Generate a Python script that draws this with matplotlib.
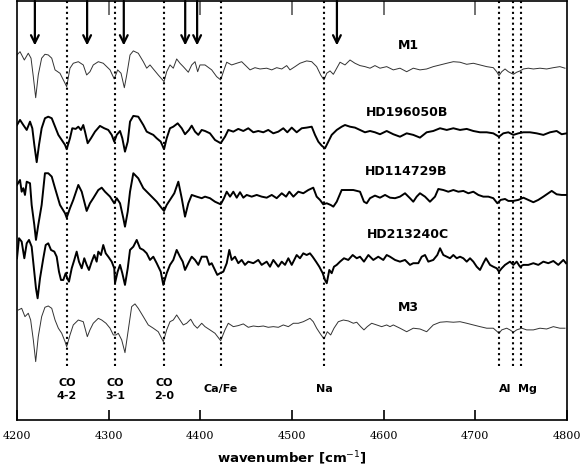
import matplotlib
matplotlib.use("Agg")
import matplotlib.pyplot as plt

# spectra, normalised flux (continuum = 1)
m1_wn = [4200, 4203.3, 4208.0, 4212.3, 4215.3, 4217.8, 4220.4, 4223.2, 4226.9, 4230.5,
         4234.1, 4237.9, 4241.5, 4246.9, 4252.4, 4254.2, 4257.8, 4261.4, 4266.9, 4272.3,
         4276.0, 4279.6, 4283.2, 4288.7, 4294.1, 4301.5, 4306.1, 4309.8, 4313.5, 4317.1,
         4319.7, 4323.3, 4326.9, 4332.3, 4337.8, 4341.5, 4345.1, 4348.7, 4354.1, 4360.4,
         4363.3, 4366.9, 4370.5, 4374.2, 4377.8, 4381.4, 4386.9, 4390.6, 4394.2, 4397.1,
         4399.6, 4405.1, 4412.4, 4417.8, 4422.2, 4425.8, 4428.8, 4434.2, 4439.7, 4445.1,
         4450.6, 4454.2, 4459.6, 4465.1, 4472.4, 4477.9, 4483.3, 4488.8, 4494.2, 4497.8,
         4503.3, 4508.7, 4516.0, 4521.5, 4526.9, 4531.3, 4534.9, 4537.9, 4541.5, 4545.1,
         4548.8, 4552.4, 4557.8, 4563.3, 4568.7, 4574.2, 4579.6, 4585.1, 4590.5, 4596.0,
         4603.3, 4610.5, 4617.8, 4625.1, 4632.3, 4639.6, 4646.9, 4654.1, 4661.5, 4668.8,
         4676.0, 4683.3, 4690.6, 4697.8, 4705.1, 4712.4, 4719.6, 4723.3, 4725.8, 4728.8,
         4732.4, 4736.0, 4741.5, 4745.1, 4748.7, 4752.4, 4757.8, 4763.3, 4770.5, 4777.8,
         4785.1, 4792.2, 4797.8]
m1_flux = [1.077, 1.102, 1.038, 1.090, 1.052, 0.910, 0.748, 0.923, 1.052, 1.082,
           1.077, 1.052, 0.962, 0.936, 0.859, 0.833, 0.975, 1.013, 1.025, 1.000,
           0.923, 0.948, 1.000, 1.025, 1.013, 0.962, 0.892, 0.962, 0.936, 0.825,
           0.923, 1.077, 1.108, 1.090, 1.025, 0.975, 1.000, 0.969, 0.923, 0.872,
           0.948, 1.000, 0.975, 1.046, 1.013, 0.987, 0.944, 1.000, 1.025, 0.948,
           1.000, 1.000, 0.962, 0.910, 0.885, 0.962, 1.021, 1.000, 1.013, 1.025,
           0.987, 0.962, 0.979, 0.969, 0.975, 0.962, 0.979, 0.969, 0.995, 0.962,
           0.987, 1.013, 1.031, 1.025, 0.987, 0.923, 0.885, 0.936, 0.954, 0.928,
           0.975, 1.021, 1.000, 1.038, 1.013, 0.995, 0.987, 0.975, 0.995, 0.975,
           0.987, 0.962, 0.975, 0.948, 0.975, 0.962, 0.969, 0.987, 1.000, 1.013,
           1.025, 1.021, 1.005, 1.013, 1.000, 0.987, 0.979, 0.948, 0.918, 0.948,
           0.969, 0.948, 0.928, 0.944, 0.954, 0.969, 0.975, 0.969, 0.975, 0.969,
           0.979, 0.987, 0.975]

hd196050b_wn = [4200, 4203.3, 4206.9, 4210.6, 4214.2, 4216.7, 4218.9, 4221.5, 4224.0, 4226.9,
                4230.5, 4234.1, 4237.9, 4241.5, 4245.1, 4248.8, 4252.4, 4254.2, 4257.8, 4260.3,
                4264.0, 4266.9, 4269.8, 4272.3, 4274.2, 4277.1, 4280.7, 4285.1, 4290.5, 4295.2,
                4299.6, 4303.3, 4306.1, 4308.8, 4312.4, 4314.9, 4317.8, 4320.8, 4323.3, 4326.9,
                4332.3, 4337.8, 4341.5, 4345.1, 4348.7, 4352.4, 4356.8, 4360.4, 4363.3, 4366.9,
                4370.5, 4375.3, 4379.7, 4383.3, 4387.6, 4390.6, 4394.2, 4397.8, 4401.5, 4405.1,
                4410.5, 4416.0, 4422.2, 4426.9, 4430.5, 4436.0, 4441.4, 4446.9, 4452.3, 4457.8,
                4463.2, 4468.7, 4474.1, 4479.6, 4485.1, 4490.5, 4494.9, 4499.7, 4505.1, 4510.6,
                4516.0, 4521.5, 4525.1, 4528.7, 4532.4, 4536.0, 4539.6, 4543.3, 4548.8, 4554.2,
                4557.8, 4563.3, 4568.7, 4574.2, 4579.6, 4585.1, 4590.5, 4596.0, 4603.3, 4610.5,
                4617.8, 4625.1, 4632.3, 4639.6, 4646.9, 4654.1, 4661.5, 4668.8, 4676.0, 4683.3,
                4690.6, 4697.8, 4705.1, 4712.4, 4719.6, 4725.8, 4730.5, 4736.0, 4741.5, 4746.9,
                4752.4, 4759.6, 4766.9, 4774.2, 4781.5, 4788.7, 4794.2, 4799.6]
hd196050b_flux = [1.038, 1.077, 1.038, 1.000, 1.064, 1.013, 0.885, 0.752, 0.885, 1.013,
                  1.090, 1.102, 1.090, 1.025, 0.962, 0.923, 0.885, 0.852, 0.936, 1.013,
                  1.008, 1.025, 1.000, 1.038, 0.987, 0.898, 0.936, 0.987, 1.031, 1.013,
                  1.000, 0.962, 0.910, 0.962, 0.992, 0.936, 0.833, 0.910, 1.064, 1.108,
                  1.102, 1.038, 0.987, 0.974, 0.962, 0.936, 0.910, 0.852, 0.936, 1.013,
                  1.025, 1.051, 1.013, 0.967, 1.000, 1.033, 0.987, 0.962, 1.000, 0.992,
                  0.974, 0.923, 0.898, 0.948, 1.000, 0.987, 1.008, 0.992, 1.013, 0.982,
                  0.992, 0.982, 1.000, 0.974, 0.987, 1.013, 0.982, 1.018, 0.982, 1.013,
                  1.018, 1.025, 0.962, 0.910, 0.879, 0.859, 0.910, 0.962, 1.000, 1.025,
                  1.038, 1.025, 1.018, 1.000, 0.982, 0.992, 0.982, 0.967, 0.992, 0.967,
                  0.948, 0.974, 0.962, 0.941, 0.982, 0.992, 1.013, 1.000, 1.013, 1.000,
                  1.008, 0.992, 0.982, 0.982, 0.974, 0.948, 0.974, 0.982, 0.962, 0.974,
                  0.982, 0.982, 0.974, 0.962, 0.982, 0.992, 0.967, 0.974]

hd114729b_wn = [4200, 4203.3, 4205.1, 4206.9, 4208.7, 4210.6, 4214.2, 4216.0, 4218.9, 4220.7,
                4223.2, 4226.9, 4230.5, 4234.1, 4237.9, 4241.5, 4246.9, 4252.4, 4254.2, 4257.8,
                4261.4, 4266.9, 4270.6, 4273.4, 4276.0, 4279.6, 4283.2, 4288.7, 4292.4, 4296.0,
                4301.5, 4306.1, 4308.8, 4312.4, 4316.0, 4317.8, 4320.8, 4323.3, 4326.9, 4332.3,
                4337.8, 4346.9, 4352.4, 4357.9, 4360.4, 4363.3, 4366.9, 4371.6, 4376.0, 4379.7,
                4383.3, 4386.9, 4390.6, 4396.0, 4401.5, 4405.1, 4410.5, 4416.0, 4422.2, 4425.8,
                4428.8, 4432.4, 4436.0, 4439.7, 4443.3, 4446.9, 4450.6, 4456.0, 4461.5, 4466.9,
                4472.4, 4477.9, 4483.3, 4488.8, 4493.5, 4497.1, 4501.5, 4506.9, 4512.3, 4517.8,
                4523.2, 4526.9, 4530.5, 4534.1, 4537.9, 4542.2, 4545.1, 4548.8, 4554.2, 4559.7,
                4566.9, 4574.2, 4578.5, 4581.5, 4585.1, 4590.5, 4596.0, 4601.5, 4606.9, 4612.4,
                4617.8, 4623.3, 4628.7, 4632.3, 4636.0, 4639.6, 4645.1, 4650.5, 4656.0, 4659.6,
                4665.1, 4670.5, 4676.0, 4681.5, 4686.9, 4692.4, 4697.8, 4703.3, 4708.7, 4714.2,
                4719.6, 4724.0, 4727.7, 4732.4, 4736.0, 4741.5, 4746.9, 4752.4, 4757.8, 4763.3,
                4768.7, 4774.2, 4779.6, 4783.3, 4788.7, 4794.2, 4798.9]
hd114729b_flux = [1.077, 1.115, 1.025, 1.052, 1.000, 1.102, 1.090, 0.923, 0.769, 0.654,
                  0.769, 0.923, 1.167, 1.167, 1.141, 1.052, 0.923, 0.859, 0.825, 0.898,
                  0.962, 1.077, 1.025, 0.948, 0.877, 0.936, 0.975, 1.038, 1.056, 1.025,
                  0.987, 0.936, 0.975, 0.936, 0.821, 0.756, 0.872, 1.025, 1.167, 1.128,
                  1.052, 0.987, 0.948, 0.898, 0.877, 0.923, 0.962, 1.013, 1.102, 0.975,
                  0.833, 0.936, 1.000, 0.987, 0.975, 0.987, 0.975, 0.948, 0.928, 0.975,
                  1.025, 0.987, 1.025, 0.979, 1.021, 0.979, 1.000, 0.987, 1.000, 0.987,
                  0.979, 1.000, 0.975, 1.013, 0.987, 1.025, 0.987, 1.025, 1.013, 1.038,
                  1.056, 0.987, 0.962, 0.928, 0.936, 0.923, 0.910, 0.948, 1.038, 1.038,
                  1.038, 1.025, 0.948, 0.936, 0.975, 0.995, 0.979, 1.000, 0.979, 0.975,
                  0.987, 1.013, 0.975, 0.948, 0.987, 1.013, 0.987, 0.948, 0.987, 1.046,
                  1.038, 1.025, 1.038, 1.025, 1.031, 1.013, 1.025, 1.000, 0.987, 0.987,
                  0.975, 0.936, 0.962, 0.969, 0.954, 0.954, 0.962, 0.979, 0.962, 0.944,
                  0.962, 0.987, 1.013, 1.031, 1.005, 1.000, 1.000]

hd213240c_wn = [4200, 4202.2, 4205.1, 4208.0, 4210.6, 4213.1, 4216.0, 4218.5, 4220.7, 4222.5,
                4225.1, 4228.7, 4231.3, 4234.1, 4237.1, 4240.7, 4243.3, 4245.8, 4248.0, 4250.5,
                4253.1, 4254.9, 4256.7, 4259.7, 4262.5, 4265.1, 4267.6, 4270.6, 4273.4, 4276.0,
                4278.5, 4281.5, 4284.3, 4286.9, 4288.7, 4291.6, 4294.1, 4296.8, 4299.6, 4303.3,
                4306.1, 4306.9, 4309.8, 4312.4, 4314.9, 4317.8, 4320.8, 4323.3, 4326.9, 4330.6,
                4334.2, 4337.8, 4341.5, 4345.1, 4348.7, 4352.4, 4356.8, 4359.6, 4363.3, 4366.9,
                4370.5, 4374.2, 4377.8, 4380.8, 4383.3, 4386.9, 4390.6, 4394.2, 4397.8, 4401.5,
                4406.9, 4409.8, 4412.4, 4416.0, 4418.5, 4421.5, 4425.1, 4428.8, 4431.6, 4434.2,
                4437.8, 4441.4, 4445.1, 4448.7, 4452.3, 4457.8, 4463.2, 4466.9, 4472.4, 4476.0,
                4479.6, 4485.1, 4488.8, 4492.4, 4496.0, 4499.7, 4505.1, 4508.7, 4512.3, 4516.0,
                4519.6, 4522.5, 4526.2, 4529.8, 4533.5, 4536.0, 4537.9, 4540.7, 4543.3, 4545.8,
                4548.8, 4552.4, 4556.7, 4561.4, 4566.2, 4570.6, 4574.2, 4578.5, 4583.3, 4588.7,
                4594.1, 4599.6, 4603.3, 4606.9, 4612.4, 4617.8, 4623.3, 4628.7, 4632.3, 4637.8,
                4641.5, 4645.1, 4648.7, 4654.1, 4658.5, 4661.5, 4665.1, 4668.8, 4672.4, 4676.0,
                4679.7, 4683.3, 4686.9, 4690.6, 4694.2, 4697.8, 4701.5, 4705.1, 4708.7, 4711.6,
                4716.0, 4719.6, 4723.3, 4725.8, 4728.8, 4732.4, 4737.8, 4741.5, 4745.1, 4748.7,
                4752.4, 4757.8, 4763.3, 4768.7, 4774.2, 4779.6, 4785.1, 4790.5, 4796.0, 4798.9]
hd213240c_flux = [1.013, 1.167, 1.141, 1.013, 1.128, 1.154, 1.102, 0.936, 0.782, 0.705,
                  0.859, 1.013, 1.115, 1.128, 1.077, 1.064, 1.025, 0.910, 0.846, 0.846,
                  0.898, 0.859, 0.833, 0.936, 1.000, 1.064, 0.987, 0.936, 1.013, 0.962,
                  0.923, 0.987, 1.038, 0.987, 1.064, 1.038, 1.115, 1.051, 1.025, 0.987,
                  0.936, 0.821, 0.910, 0.962, 0.898, 0.808, 0.936, 1.077, 1.102, 1.154,
                  1.090, 1.077, 1.051, 1.000, 1.025, 0.975, 0.910, 0.808, 0.898, 0.962,
                  1.000, 1.077, 1.025, 0.987, 0.923, 0.975, 1.025, 1.000, 0.962, 1.025,
                  1.025, 0.962, 0.975, 0.923, 0.885, 0.898, 0.910, 0.975, 1.077, 1.000,
                  1.025, 0.975, 1.000, 0.962, 0.987, 0.975, 1.000, 0.962, 0.987, 0.948,
                  1.000, 0.948, 0.987, 0.962, 1.013, 0.962, 1.038, 1.013, 1.051, 1.038,
                  1.051, 1.025, 0.987, 0.948, 0.898, 0.846, 0.821, 0.923, 0.898, 0.948,
                  0.962, 0.987, 1.013, 1.000, 1.038, 1.013, 1.025, 0.987, 1.038, 1.000,
                  1.025, 1.000, 1.038, 1.025, 1.000, 0.987, 1.000, 0.962, 0.975, 0.975,
                  1.025, 1.038, 0.987, 1.000, 1.038, 1.090, 1.038, 1.025, 1.013, 1.038,
                  1.013, 1.025, 1.013, 0.987, 1.013, 0.987, 0.948, 0.923, 0.975, 1.013,
                  0.962, 0.948, 0.936, 0.910, 0.936, 0.962, 0.987, 0.962, 0.987, 0.948,
                  0.962, 0.962, 0.975, 0.962, 0.987, 0.975, 0.992, 0.962, 1.000, 0.975]

m3_wn = [4201.4, 4205.1, 4208.7, 4212.3, 4214.9, 4217.8, 4220.4, 4223.2, 4226.9, 4230.5,
         4234.1, 4237.9, 4241.5, 4245.1, 4248.8, 4252.4, 4254.2, 4257.8, 4261.4, 4266.9,
         4272.3, 4276.7, 4279.6, 4283.2, 4288.7, 4292.4, 4297.1, 4301.5, 4305.1, 4308.0,
         4310.5, 4314.2, 4317.8, 4321.4, 4325.1, 4328.7, 4332.3, 4337.8, 4343.2, 4348.7,
         4354.1, 4359.6, 4363.3, 4366.9, 4370.5, 4374.2, 4377.8, 4381.4, 4385.1, 4389.5,
         4393.1, 4396.7, 4401.5, 4405.1, 4410.5, 4416.0, 4422.2, 4426.9, 4430.5, 4436.0,
         4441.4, 4446.9, 4452.3, 4457.8, 4463.2, 4468.7, 4474.1, 4479.6, 4485.1, 4490.5,
         4496.0, 4501.5, 4506.9, 4512.3, 4516.0, 4519.6, 4523.2, 4526.9, 4530.5, 4534.9,
         4538.5, 4542.2, 4545.8, 4550.5, 4556.0, 4561.4, 4566.9, 4570.6, 4574.9, 4578.5,
         4582.1, 4586.9, 4592.4, 4597.8, 4603.3, 4606.9, 4610.5, 4617.8, 4625.1, 4632.3,
         4639.6, 4646.9, 4654.1, 4661.5, 4668.8, 4676.0, 4683.3, 4690.6, 4697.8, 4705.1,
         4712.4, 4719.6, 4724.0, 4725.8, 4728.8, 4734.2, 4737.8, 4741.5, 4745.1, 4750.6,
         4756.0, 4763.3, 4770.5, 4777.8, 4785.1, 4792.2, 4797.8]
m3_flux = [1.115, 1.128, 1.064, 1.090, 1.038, 0.885, 0.718, 0.910, 1.064, 1.136,
           1.146, 1.128, 1.038, 0.975, 0.936, 0.872, 0.833, 0.923, 1.000, 1.038,
           1.025, 0.910, 0.962, 1.013, 1.051, 1.038, 1.013, 0.975, 0.923, 0.923,
           0.936, 0.885, 0.787, 0.962, 1.141, 1.162, 1.128, 1.064, 1.000, 0.975,
           0.948, 0.872, 0.962, 1.025, 1.038, 1.077, 1.038, 1.000, 1.013, 1.044,
           1.000, 0.975, 1.013, 0.987, 0.962, 0.936, 0.879, 0.962, 1.013, 0.987,
           0.995, 1.008, 0.982, 0.992, 0.987, 0.992, 0.982, 0.987, 0.982, 1.000,
           0.987, 1.013, 1.013, 1.025, 1.038, 1.051, 1.025, 0.975, 0.936, 0.892,
           0.948, 0.923, 0.975, 1.025, 1.038, 1.031, 1.013, 1.021, 0.987, 0.962,
           0.987, 1.013, 1.000, 0.987, 1.000, 0.987, 1.000, 0.975, 0.948, 0.975,
           0.969, 0.948, 1.000, 1.021, 1.025, 1.021, 1.025, 1.013, 1.000, 0.987,
           0.975, 0.975, 0.948, 0.936, 0.962, 0.975, 0.962, 0.944, 0.962, 0.975,
           0.962, 0.962, 0.975, 0.969, 0.987, 0.975, 0.975]

names = ['M1', 'HD196050B', 'HD114729B', 'HD213240C', 'M3']
offsets = [2.0, 1.5, 1.0, 0.5, 0.0]

# line identifications
line_wn = [4254.5, 4307, 4360.5, 4422.5, 4535, 4725.5, 4741, 4750]
line_labels = ['CO\n4-2', 'CO\n3-1', 'CO\n2-0', 'Ca/Fe', 'Na', 'Al', 'Mg']
label_wn = [4254.5, 4307, 4360.5, 4422.5, 4535, 4733, 4757]
arrow_wn = [4219.5, 4276.5, 4316.5, 4383.5, 4396.5, 4549]

ymin, ymax = 0.269, 3.492

fig = plt.figure(figsize=(5.8, 4.69), dpi=100)
ax = fig.add_axes([0.0293, 0.1045, 0.9483, 0.8934])

spectra = [(m1_wn, m1_flux), (hd196050b_wn, hd196050b_flux), (hd114729b_wn, hd114729b_flux),
           (hd213240c_wn, hd213240c_flux), (m3_wn, m3_flux)]
for (wn, fl), name, off in zip(spectra, names, offsets):
    thin = name.startswith('M')
    ax.plot(wn, [f + off for f in fl], color='#333333' if thin else 'black',
            lw=0.7 if thin else 1.4)

ax.vlines(line_wn, 0.685, ymax, colors='black', linestyles=(0, (1, 1.6)), lw=1.5)

for w in arrow_wn:
    ax.annotate('', xy=(w, 3.15), xytext=(w, ymax),
                arrowprops=dict(arrowstyle='->', lw=1.6, color='black', mutation_scale=14,
                                shrinkA=0, shrinkB=0))

# spectrum names
name_pos = [(4626.5, 3.146), (4625.5, 2.631), (4624.5, 2.177), (4626, 1.692), (4626.5, 1.131)]
for name, (x, y) in zip(names, name_pos):
    ax.text(x, y, name, ha='center', va='center', fontsize=9, fontweight='bold')

for lab, x in zip(line_labels, label_wn):
    ax.text(x, 0.504, lab, ha='center', va='center', fontsize=8, fontweight='bold',
            linespacing=1.45)

ax.set_xlim(4200, 4800)
ax.set_ylim(ymin, ymax)
ax.set_yticks([])
ax.set_xticks(range(4200, 4801, 100))
ax.tick_params(axis='x', direction='in', length=7, width=1.2, pad=8)
for lbl in ax.get_xticklabels():
    lbl.set_family('DejaVu Serif')
    lbl.set_fontsize(8)

top = ax.secondary_xaxis('top')
top.set_xticks(range(4300, 4701, 100))
top.tick_params(direction='in', length=10, width=1.2, color='0.35', labeltop=False)
top.spines['top'].set_visible(False)

for s in ax.spines.values():
    s.set_linewidth(1.2)

ax.set_xlabel('wavenumber [cm$^{-1}$]', fontsize=9.5, fontweight='bold', labelpad=6)

fig.savefig('out.png', dpi=100)
